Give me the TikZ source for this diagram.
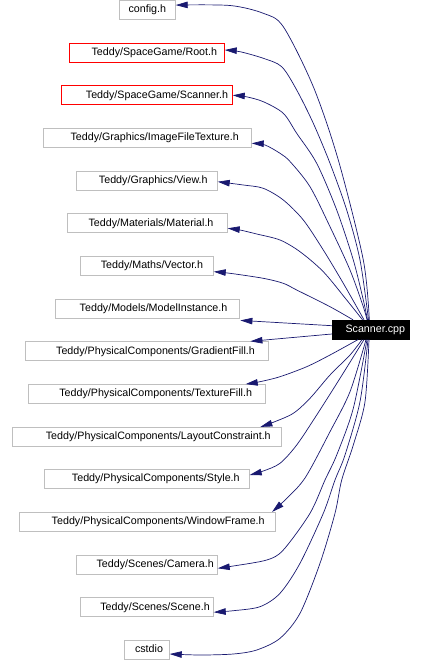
\documentclass[tikz,border=0pt]{standalone}
\usepackage{fontspec}
\setmainfont{Liberation Sans}
\usetikzlibrary{arrows.meta}
\definecolor{edgeblue}{HTML}{191970}
\definecolor{boxgray}{HTML}{BFBFBF}
\begin{document}
\begin{tikzpicture}[x=1pt,y=-1pt,
  hbox/.style={draw=boxgray, line width=0.8pt, minimum height=19pt, inner sep=0pt,
    text height=8.3pt, text depth=2.5pt, font=\fontsize{10.7}{12}\selectfont, anchor=center},
  redbox/.style={hbox, draw=red},
  mainbox/.style={hbox, draw=black, fill=black, text=white},
  dep/.style={draw=edgeblue, line width=0.7pt, -{Triangle[length=12pt,width=6.5pt]}},
  sm/.style={smooth, tension=0.5}
  ]
\useasboundingbox (0,0) rectangle (424,661);

% nodes
\node[hbox, minimum width=56pt] (config) at (147.3,9.6) {config.h};
\node[redbox, minimum width=155pt] (root) at (146.8,52.8) {\hspace*{15pt}Teddy/SpaceGame/Root.h};
\node[redbox, minimum width=171pt] (scanh) at (146.8,95.3) {\hspace*{20.4pt}Teddy/SpaceGame/Scanner.h};
\node[hbox, minimum width=208pt] (ift) at (147.3,137.7) {\hspace*{14.8pt}Teddy/Graphics/ImageFileTexture.h};
\node[hbox, minimum width=141pt] (view) at (146.8,181) {\hspace*{13pt}Teddy/Graphics/View.h};
\node[hbox, minimum width=160pt] (material) at (147.3,223.3) {\hspace*{7.4pt}Teddy/Materials/Material.h};
\node[hbox, minimum width=133pt] (vector) at (146.8,266) {\hspace*{10.4pt}Teddy/Maths/Vector.h};
\node[hbox, minimum width=184pt] (modelinst) at (147.3,308.8) {\hspace*{12.4pt}Teddy/Models/ModelInstance.h};
\node[mainbox, minimum width=77.4pt] (scpp) at (371,329.7) {\hspace*{8.6pt}Scanner.cpp};
\node[hbox, minimum width=243.4pt] (gradient) at (147,351.2) {\hspace*{17pt}Teddy/PhysicalComponents/GradientFill.h};
\node[hbox, minimum width=237pt] (texture) at (146.8,394) {\hspace*{17.8pt}Teddy/PhysicalComponents/TextureFill.h};
\node[hbox, minimum width=269.4pt] (layout) at (147,436.8) {\hspace*{22.6pt}Teddy/PhysicalComponents/LayoutConstraint.h};
\node[hbox, minimum width=205pt] (style) at (146.8,479) {\hspace*{18pt}Teddy/PhysicalComponents/Style.h};
\node[hbox, minimum width=256.4pt] (window) at (147.5,521.8) {\hspace*{21.4pt}Teddy/PhysicalComponents/WindowFrame.h};
\node[hbox, minimum width=141pt] (camera) at (146.8,564.8) {\hspace*{16.8pt}Teddy/Scenes/Camera.h};
\node[hbox, minimum width=133pt] (scene) at (146.8,607.2) {\hspace*{16.4pt}Teddy/Scenes/Scene.h};
\node[hbox, minimum width=45pt] (cstdio) at (146.8,649.8) {\hspace*{4.4pt}cstdio};

% edges (upwards)
\draw[dep] plot[sm] coordinates {([xshift=-1.7pt]scpp.north) (363.3,260) (338.3,160) (313.3,86.7) (283.3,26.7) (263.3,13.3) (230,5.5) ([yshift=4.5pt]config.east)};
\draw[dep] plot[sm] coordinates {([xshift=-2.5pt]scpp.north) (360,260) (346.7,210) (330,163.3) (313.3,123.3) (296.7,90) (281.7,66.7) (263.3,58.3) (240,51.7) ([yshift=2.8pt]root.east)};
\draw[dep] plot[sm] coordinates {([xshift=-3.5pt]scpp.north) (363.3,300) (353.3,260) (336.7,210) (316.7,163.3) (296.7,133.3) (283.3,113.3) (263.3,101.7) (246,96.7) (scanh.east)};
\draw[dep] plot[sm] coordinates {([xshift=-4pt]scpp.north) (363.3,306.7) (350,270) (330,226.7) (310,186.7) (290,161.5) (280,153.3) (265,145) ([yshift=-5.6pt]ift.east)};
\draw[dep] plot[sm] coordinates {([xshift=-7pt]scpp.north) (343.3,283.3) (323.3,250) (303.3,220) (283.3,200) (263.3,188.3) (243.3,185) ([yshift=-0.7pt]view.east)};
\draw[dep] plot[sm] coordinates {([xshift=-8.5pt]scpp.north) (346.7,300) (323.3,271.7) (300,251.7) (280,240) (256.7,234) (240,230) ([yshift=-5pt]material.east)};
\draw[dep] plot[sm] coordinates {([xshift=-18pt]scpp.north) (330,306.7) (296.7,290) (283.3,283.3) (263.3,278.3) (230,273.3) ([yshift=-5.7pt]vector.east)};
\draw[dep] ([yshift=4pt]scpp.west) -- ([xshift=0.7pt,yshift=-1.7pt]modelinst.south east);
% edges (downwards)
\draw[dep] ([yshift=-4.3pt]scpp.west) -- ([xshift=-18.7pt]gradient.north east);
\draw[dep] plot[sm] coordinates {([xshift=-13pt]scpp.south) (330,355) (306.7,366.7) (280,376.7) (260,381.7) ([xshift=-20pt]texture.north east)};
\draw[dep] plot[sm] coordinates {([xshift=-9pt]scpp.south) (350,355) (330,375) (310,398.3) (293.3,413.3) (273.3,422.3) ([xshift=-21.7pt]layout.north east)};
\draw[dep] plot[sm] coordinates {([xshift=-7pt]scpp.south) (340,378.3) (316.7,415) (296.7,445) (280,463.3) (263.3,471) ([yshift=4pt]style.east)};
\draw[dep] plot[sm] coordinates {([xshift=-5pt]scpp.south) (350,391.7) (330,431.7) (305,478) (285,500) ([xshift=-4pt]window.north east)};
\draw[dep] plot[sm] coordinates {([xshift=-4pt]scpp.south) (353.3,408.3) (336.7,455) (325,480) (310,513.3) (283.3,550) (266.7,560) (233.3,566) ([yshift=-3.5pt]camera.east)};
\draw[dep] plot[sm] coordinates {([xshift=-3pt]scpp.south) (360,401.7) (345,455) (335,480) (323.3,513.3) (300,563.3) (280,593.3) (260,606.7) (233.3,610.7) ([yshift=-5pt]scene.east)};
\draw[dep] plot[sm] coordinates {([xshift=-2pt]scpp.south) (365,401.7) (353.3,445) (341.7,480) (335,513.3) (320,563.3) (300,613.3) (280,638.3) (256.7,650) (233.3,654) (200,655) ([yshift=-4.2pt]cstdio.east)};
\end{tikzpicture}
\end{document}
